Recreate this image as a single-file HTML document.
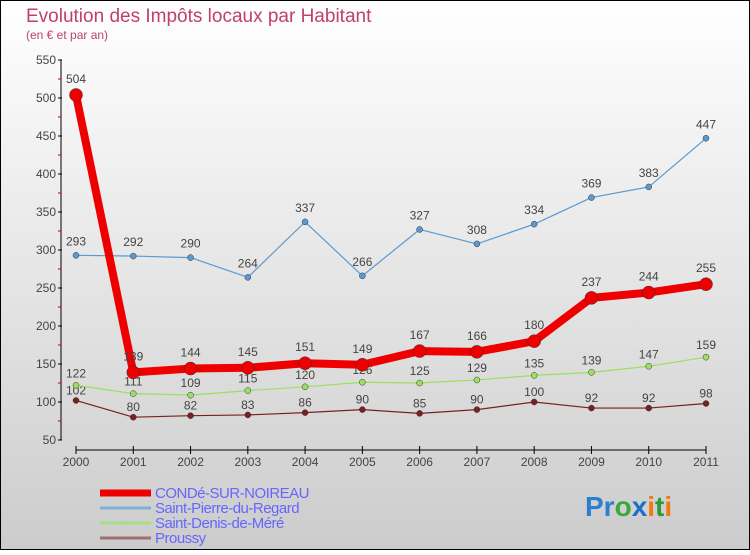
<!DOCTYPE html>
<html><head><meta charset="utf-8"><style>
html,body{margin:0;padding:0}
body{width:750px;height:550px;overflow:hidden;font-family:"Liberation Sans",sans-serif}
</style></head><body>
<svg width="750" height="550" viewBox="0 0 750 550">
<defs><linearGradient id="bg" x1="0" y1="0" x2="0" y2="1"><stop offset="0" stop-color="#ffffff"/><stop offset="1" stop-color="#cccccc"/></linearGradient></defs>
<rect x="0.5" y="0.5" width="749" height="549" fill="url(#bg)" stroke="#000"/>
<text x="26" y="22" font-size="19" fill="#c0406a">Evolution des Impôts locaux par Habitant</text>
<text x="26" y="39" font-size="12" fill="#c0406a">(en € et par an)</text>
<g id="axes"></g>
<g id="series"></g>
<g id="legend"></g>
<text x="585" y="516" font-size="28" font-weight="bold"><tspan fill="#2a7fd0">Pr</tspan><tspan fill="#3aa83a">o</tspan><tspan fill="#1a6fc8">x</tspan><tspan fill="#f07a10">i</tspan><tspan fill="#2a9a3a">t</tspan><tspan fill="#f07a10">i</tspan></text>
</svg>
<script>
const years=[2000,2001,2002,2003,2004,2005,2006,2007,2008,2009,2010,2011];
const yTicks=[50,100,150,200,250,300,350,400,450,500,550];
const conde=[504,139,144,145,151,149,167,166,180,237,244,255];
const stPierre=[293,292,290,264,337,266,327,308,334,369,383,447];
const stDenis=[122,111,109,115,120,126,125,129,135,139,147,159];
const proussy=[102,80,82,83,86,90,85,90,100,92,92,98];
const NS="http://www.w3.org/2000/svg";
const xS=i=>76+i*(630/11);
const yS=v=>440-(v-50)*0.76;
function mk(tag,attrs,parent){const e=document.createElementNS(NS,tag);for(const k in attrs)e.setAttribute(k,attrs[k]);parent.appendChild(e);return e;}
const ax=document.getElementById('axes');
let yl=mk('line',{x1:61,y1:60,x2:61,y2:440,stroke:'#000'},ax);


yTicks.forEach(v=>{
 const t=mk('line',{x1:58,x2:62,y1:yS(v),y2:yS(v),stroke:'#000'},ax);
 
 
 const m=mk('line',{x1:58,x2:61,y1:yS(v+25),y2:yS(v+25),stroke:'#c00'},ax);
 if(v===550)m.remove();
 
 
 const l=mk('text',{x:56,y:yS(v)+4,'text-anchor':'end','font-size':12,fill:'#444'},ax);
 l.textContent=v;
 
 
});
const xl=mk('line',{x1:76,y1:450,x2:706,y2:450,stroke:'#000'},ax);


years.forEach((y,i)=>{
 const t=mk('line',{x1:xS(i),x2:xS(i),y1:446,y2:454,stroke:'#000'},ax);
 
 
 const l=mk('text',{x:xS(i),y:466,'text-anchor':'middle','font-size':12,fill:'#444'},ax);
 l.textContent=y;
 
 
});
const sg=document.getElementById('series');
function series(vals,color,w,r,name,dy){
 const g=mk('g',{},sg);
 
 
 const p=mk('polyline',{points:vals.map((v,i)=>xS(i)+','+yS(v)).join(' '),fill:'none',stroke:color,'stroke-width':w,'stroke-linejoin':'round'},g);
 
 
 vals.forEach((v,i)=>{
  const c=mk('circle',{cx:xS(i),cy:yS(v),r:r,fill:color,stroke:'#333','stroke-width':0.5},g);
  
  
  const t=mk('text',{x:xS(i),y:yS(v)+dy,'text-anchor':'middle','font-size':12,fill:'#444'},g);
  t.textContent=v;
  
  
 });
}
series(proussy,'#7a2020',1.2,3,'proussy',-6);
series(stDenis,'#9be060',1.2,3,'saint-denis-de-mere',-8);
series(stPierre,'#5a9ad0',1.2,3,'saint-pierre-du-regard',-10);
series(conde,'#ee0000',8,6.5,'conde-sur-noireau',-12);
const lg=document.getElementById('legend');
const names=['CONDé-SUR-NOIREAU','Saint-Pierre-du-Regard','Saint-Denis-de-Méré','Proussy'];
const colors=['#ee0000','#80b0d8','#a8e080','#a07070'];
const widths=[7,3,3,3];
names.forEach((n,i)=>{
 const y=492+i*15;
 const l=mk('line',{x1:100,x2:151,y1:y+1,y2:y+1,stroke:colors[i],'stroke-width':widths[i]},lg);
 
 
 const t=mk('text',{x:155,y:y+6,'font-size':15,fill:'#6666ff','letter-spacing':'-0.5'},lg);
 t.textContent=n;
 
 
});
</script>
</body></html>
